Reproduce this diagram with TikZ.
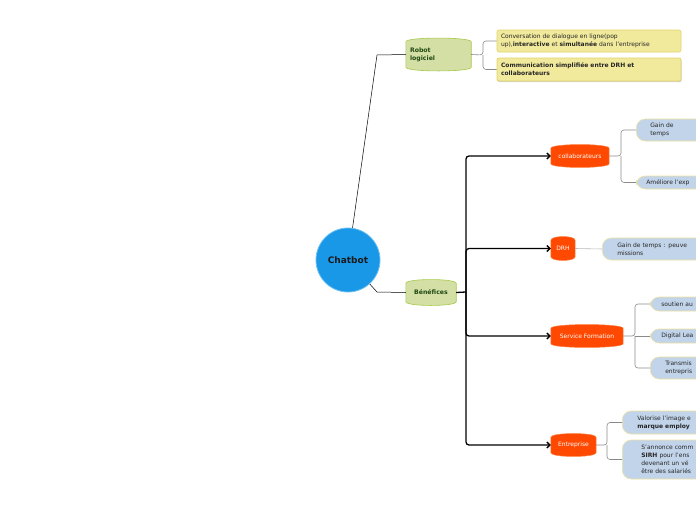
\documentclass[tikz,border=0pt]{standalone}
\usepackage{fontspec}
\setmainfont{DejaVu Sans}
\usetikzlibrary{arrows.meta,backgrounds,shadows}
\definecolor{chatblue}{HTML}{1A98E8}
\definecolor{chatrim}{HTML}{6CC0F2}
\definecolor{greenfill}{HTML}{D4DFA6}
\definecolor{greenrim}{HTML}{A6C94A}
\definecolor{greentext}{HTML}{1E4A12}
\definecolor{yelfill}{HTML}{F1E99C}
\definecolor{yelrim}{HTML}{E2D36A}
\definecolor{orfill}{HTML}{FF4800}
\definecolor{orrim}{HTML}{FF8040}
\definecolor{bluefill}{HTML}{C2D4EA}
\definecolor{bluerim}{HTML}{EDE2A0}
\definecolor{linegray}{HTML}{8A8A8A}
\newcommand\barrel[2]{%
  \path[#2] ([yshift=-4pt]#1.north west) .. controls ([yshift=1pt]#1.north west) and ([yshift=1pt]#1.north east) .. ([yshift=-4pt]#1.north east)
    -- ([yshift=4pt]#1.south east) .. controls ([yshift=-1pt]#1.south east) and ([yshift=-1pt]#1.south west) .. ([yshift=4pt]#1.south west) -- cycle;}
\tikzset{
  txt/.style={font=\fontsize{6}{8}\selectfont},
  barrelnode/.style={txt, inner sep=0pt, align=center},
  greennode/.style={barrelnode, text=greentext, font=\fontsize{6.2}{8}\selectfont\bfseries},
  ornode/.style={barrelnode, text=white},
  yelbox/.style={txt, draw=yelrim, fill=yelfill, rounded corners=2pt, line width=0.6pt,
    minimum width=184pt, text width=176pt, inner xsep=4pt, inner ysep=0pt, align=left, text=black!85},
  bluebox/.style={txt, draw=bluerim, fill=bluefill, rounded corners=9pt, line width=0.6pt,
    anchor=west, text width=180pt, inner ysep=0pt, align=left, text=black!85},
  thinlink/.style={draw=black, line width=0.5pt},
  graylink/.style={draw=linegray, line width=0.6pt, rounded corners=3pt},
  trunk/.style={draw=black, line width=1.3pt, rounded corners=3pt},
  trunkarrow/.style={trunk, -{Straight Barb[length=3pt,width=6pt]}},
}
\begin{document}
\begin{tikzpicture}[x=1pt,y=-1pt]
\useasboundingbox (0,0) rectangle (696,520);
\clip (0,0) rectangle (696,520);

% central node
\node[circle, minimum size=64pt, fill=chatblue, draw=chatrim, line width=0.8pt,
  font=\fontsize{9}{10}\selectfont\bfseries, text=black!90] (chat) at (348,260) {Chatbot};

% level 1
\node[greennode, minimum width=65pt, minimum height=33pt, text width=57pt, align=left] (robot) at (438.5,54.5) {Robot\\logiciel};
\node[greennode, minimum width=50pt, minimum height=26pt] (benef) at (431,292.5) {Bénéfices};

% yellow boxes
\node[yelbox, minimum height=22pt] (y1) at (589,41) {Conversation de dialogue en ligne(pop\\up),\textbf{interactive} et \textbf{simultanée} dans l'entreprise};
\node[yelbox, minimum height=23pt, line width=0.8pt, drop shadow={shadow xshift=0.6pt, shadow yshift=-1.2pt, opacity=0.35}] (y2) at (589,69.5) {\textbf{Communication simplifiée entre DRH et}\\\textbf{collaborateurs}};

% orange nodes
\node[ornode, minimum width=58pt, minimum height=23pt] (collab) at (580,156) {collaborateurs};
\node[ornode, minimum width=24pt, minimum height=24pt] (drh) at (563,248.5) {DRH};
\node[ornode, minimum width=72pt, minimum height=23pt] (sf) at (587,336) {Service Formation};
\node[ornode, minimum width=45pt, minimum height=23pt] (ent) at (573.5,445) {Entreprise};

% blue boxes
\node[bluebox, minimum height=22pt, inner xsep=14pt] (gain) at (636,130) {Gain de\\temps};
\node[bluebox, minimum height=13pt, inner xsep=10pt] (amel) at (636,182.5) {Améliore l'exp};
\node[bluebox, minimum height=22pt, inner xsep=15pt] (drhgain) at (602,249) {Gain de temps : peuve\\missions};
\node[bluebox, minimum height=14pt, inner xsep=11pt] (sout) at (650,304) {soutien au};
\node[bluebox, minimum height=14pt, inner xsep=11pt] (digi) at (650,336) {Digital Lea};
\node[bluebox, minimum height=22pt, inner xsep=15pt] (trans) at (650,368) {Transmis\\entrepris};
\node[bluebox, minimum height=23pt, inner xsep=15pt] (valo) at (622,422.5) {Valorise l'image e\\\textbf{marque employ}};
\node[bluebox, minimum height=39pt, inner xsep=19pt] (sann) at (622,459.5) {S'annonce comm\\\textbf{SIRH} pour l'ens\\devenant un vé\\être des salariés};

\begin{pgfonlayer}{background}
  \barrel{robot}{fill=greenfill, draw=greenrim, line width=0.6pt}
  \barrel{benef}{fill=greenfill, draw=greenrim, line width=0.6pt}
  \barrel{collab}{fill=orfill, draw=orrim, line width=0.5pt}
  \barrel{drh}{fill=orfill, draw=orrim, line width=0.5pt}
  \barrel{sf}{fill=orfill, draw=orrim, line width=0.5pt}
  \barrel{ent}{fill=orfill, draw=orrim, line width=0.5pt}
\end{pgfonlayer}

% coordinates
\coordinate (cr) at (377,55);
\coordinate (cb) at (377,292);
\coordinate (rj) at (483,55);
\coordinate (tj) at (466,292);
\coordinate (cj) at (621,156);
\coordinate (sj) at (635,336);
\coordinate (ej) at (607,445);

% connectors
\draw[thinlink] (chat) -- (cr) -- (robot.west);
\draw[thinlink] (chat) -- (cb) -- (benef.west);
\draw[graylink] (robot.east) -- (rj) |- (y1.west);
\draw[graylink] (rj) |- (y2.west);

\draw[trunk] (benef.east) -- (tj);
\draw[trunkarrow] (tj) |- (collab.west);
\draw[trunkarrow] (tj) |- (drh.west);
\draw[trunkarrow] (tj) |- (sf.west);
\draw[trunkarrow] (tj) |- (ent.west);

\draw[graylink] (collab.east) -- (cj) |- (gain.west);
\draw[graylink] (cj) |- (amel.west);
\draw[graylink, draw=linegray!60] (drh.east) -- (drhgain.west);
\draw[graylink] (sf.east) -- (sj) |- (sout.west);
\draw[graylink] (sj) -- (digi.west);
\draw[graylink] (sj) |- (trans.west);
\draw[graylink] (ent.east) -- (ej) |- (valo.west);
\draw[graylink] (ej) |- (sann.west);
\end{tikzpicture}
\end{document}
